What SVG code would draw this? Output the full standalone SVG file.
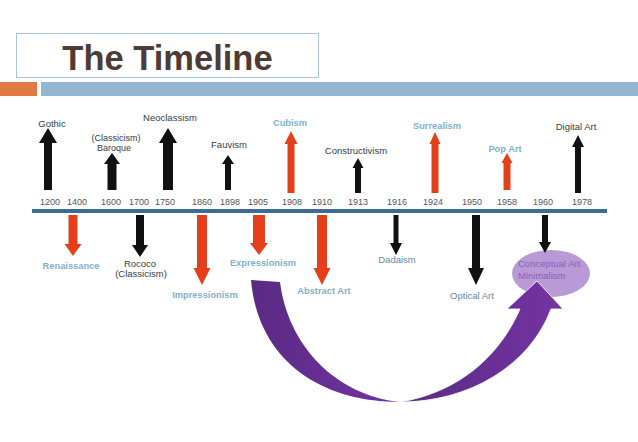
<svg xmlns="http://www.w3.org/2000/svg" width="638" height="442" viewBox="0 0 638 442">
<defs>
<style>
.yr{font-family:"Liberation Sans",Arial,sans-serif;font-size:9px;fill:#555;text-anchor:middle}
.dk{font-family:"Liberation Sans",Arial,sans-serif;font-size:9.5px;fill:#333c44;text-anchor:middle}
.sm{font-size:9px}
.lb{font-family:"Liberation Sans",Arial,sans-serif;font-size:9.3px;font-weight:bold;fill:#7fb0cc;text-anchor:middle}
.gb{font-family:"Liberation Sans",Arial,sans-serif;font-size:9.5px;fill:#6487a6;text-anchor:middle}
.pu{font-family:"Liberation Sans",Arial,sans-serif;font-size:9.5px;fill:#8a60b8}
.blk{fill:#111}
.red{fill:#e53e1b}
</style>
<linearGradient id="cg" x1="0" y1="0" x2="1" y2="0">
<stop offset="0" stop-color="#592a83"/>
<stop offset="1" stop-color="#7434a3"/>
</linearGradient>
</defs>
<rect width="638" height="442" fill="#fff"/>
<g id="title">
<rect x="16.5" y="33.5" width="302" height="44" fill="#fff" stroke="#a9c4da" stroke-width="1"/>
<text x="167.5" y="70" font-family="Liberation Sans,Arial,sans-serif" font-size="34.5" font-weight="bold" fill="#4e3b35" text-anchor="middle">The Timeline</text>
</g>
<g id="bars">
<rect x="0" y="82" width="37" height="14" fill="#e07a45"/>
<rect x="41" y="82" width="597" height="14" fill="#94b6d3"/>
</g>
<g id="axis">
<rect x="32" y="209" width="575" height="4" fill="#3d6b97"/>
<text class="yr" x="50" y="205">1200</text>
<text class="yr" x="77" y="205">1400</text>
<text class="yr" x="111" y="205">1600</text>
<text class="yr" x="139" y="205">1700</text>
<text class="yr" x="165" y="205">1750</text>
<text class="yr" x="202" y="205">1860</text>
<text class="yr" x="230" y="205">1898</text>
<text class="yr" x="258" y="205">1905</text>
<text class="yr" x="292" y="205">1908</text>
<text class="yr" x="322" y="205">1910</text>
<text class="yr" x="358" y="205">1913</text>
<text class="yr" x="397" y="205">1916</text>
<text class="yr" x="433" y="205">1924</text>
<text class="yr" x="472" y="205">1950</text>
<text class="yr" x="507" y="205">1958</text>
<text class="yr" x="543" y="205">1960</text>
<text class="yr" x="582" y="205">1978</text>
</g>
<g id="connectors">
<path class="blk" d="M48,128 L57,143 L52,143 L52,190 L44,190 L44,143 L39,143 Z"/>
<path class="blk" d="M112,153 L120,164 L116.5,164 L116.5,190 L107.5,190 L107.5,164 L104,164 Z"/>
<path class="blk" d="M168,128 L177,143 L173,143 L173,190 L163,190 L163,143 L159,143 Z"/>
<path class="blk" d="M228,155 L234,164 L231,164 L231,190 L225,190 L225,164 L222,164 Z"/>
<path class="red" d="M291,131 L297.5,144 L294.5,144 L294.5,193 L287.5,193 L287.5,144 L284.5,144 Z"/>
<path class="blk" d="M358,158 L363.5,168 L361,168 L361,193 L355,193 L355,168 L352.5,168 Z"/>
<path class="red" d="M435,132 L440.5,144 L438.5,144 L438.5,193 L431.5,193 L431.5,144 L429.5,144 Z"/>
<path class="red" d="M507,153 L512.5,163 L510.5,163 L510.5,190 L503.5,190 L503.5,163 L501.5,163 Z"/>
<path class="blk" d="M578,135 L584,147 L581,147 L581,193 L575,193 L575,147 L572,147 Z"/>
<path class="red" d="M68.5,215 L77.5,215 L77.5,244 L81.5,244 L73,256 L64.5,244 L68.5,244 Z"/>
<path class="blk" d="M136,215 L144,215 L144,245 L148,245 L140,257 L132,245 L136,245 Z"/>
<path class="red" d="M197,215 L207,215 L207,268 L210.5,268 L202,285 L193.5,268 L197,268 Z"/>
<path class="red" d="M253,215 L265,215 L265,243 L268,243 L259,255 L250,243 L253,243 Z"/>
<path class="red" d="M317,215 L327,215 L327,268 L330.5,268 L322,285 L313.5,268 L317,268 Z"/>
<path class="blk" d="M393.5,215 L398.5,215 L398.5,243 L402,243 L396,255 L390,243 L393.5,243 Z"/>
<path class="blk" d="M472,215 L480,215 L480,268 L484,268 L476,285 L468,268 L472,268 Z"/>
</g>
<g id="gothic"><text class="dk" x="52" y="127">Gothic</text></g>
<g id="baroque"><text class="dk sm" x="116" y="141">(Classicism)</text><text class="dk sm" x="114" y="150.5">Baroque</text></g>
<g id="neoclassism"><text class="dk" x="170" y="121">Neoclassism</text></g>
<g id="fauvism"><text class="dk" x="229" y="148">Fauvism</text></g>
<g id="cubism"><text class="lb" x="290" y="126">Cubism</text></g>
<g id="constructivism"><text class="dk" x="356" y="154">Constructivism</text></g>
<g id="surrealism"><text class="lb" x="437" y="129">Surrealism</text></g>
<g id="popart"><text class="lb" x="505" y="152">Pop Art</text></g>
<g id="digitalart"><text class="dk" x="576" y="130">Digital Art</text></g>
<g id="renaissance"><text class="lb" x="71" y="269">Renaissance</text></g>
<g id="rococo"><text class="dk" x="140" y="267">Rococo</text><text class="dk" x="141" y="277">(Classicism)</text></g>
<g id="impressionism"><text class="lb" x="205" y="298">Impressionism</text></g>
<g id="expressionism"><text class="lb" x="263" y="266">Expressionism</text></g>
<g id="abstractart"><text class="lb" x="324" y="294">Abstract Art</text></g>
<g id="dadaism"><text class="gb" x="397" y="263">Dadaism</text></g>
<g id="opticalart"><text class="gb" x="472" y="299">Optical Art</text></g>
<g id="conceptual">
<ellipse cx="551" cy="273.5" rx="39" ry="23.5" fill="#b99ad6"/>
<text class="pu" x="518" y="267">Conceptual Art</text>
<text class="pu" x="518" y="279">Minimalism</text>
</g>
<g id="conceptual-arrow">
<path class="blk" d="M542,215 L548,215 L548,242 L551,242 L545,253 L539,242 L542,242 Z"/>
</g>
<g id="curved-arrow">
<path fill="url(#cg)" d="M251,280 L280,282 C288,345 335,395 400,402 C320,402 258,360 251,280 Z"/>
<path fill="url(#cg)" stroke="#fff" stroke-width="0.8" stroke-linejoin="miter" d="M400,402 C470,402 530,365 551,309 L563,309 L537,281 L507,309 L520,309 C500,355 460,392 400,402 Z"/>
</g>
</svg>
